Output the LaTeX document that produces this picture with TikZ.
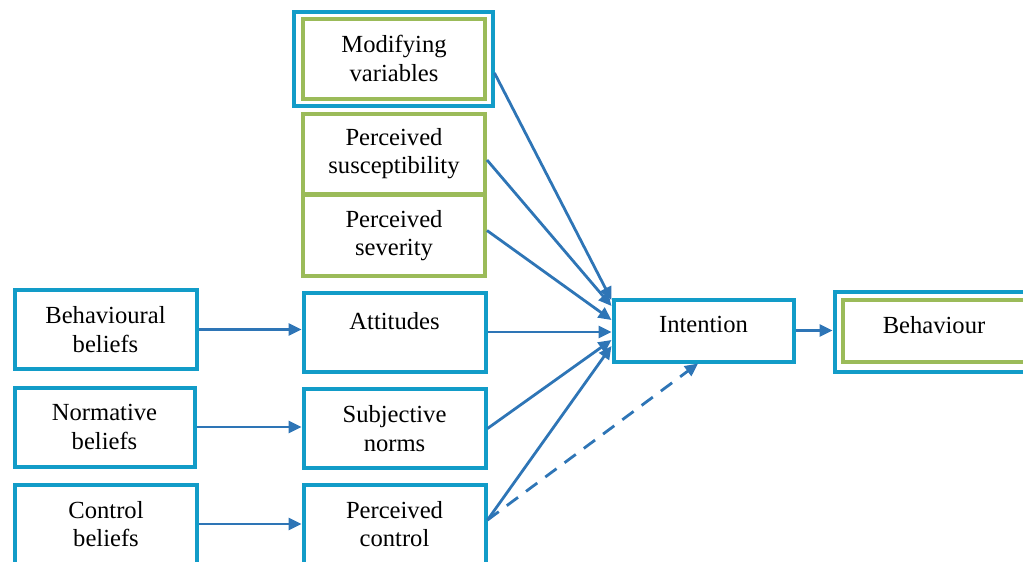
\documentclass[tikz,border=0pt]{standalone}
\usepackage{fontspec}
\setmainfont{Liberation Serif}
\usetikzlibrary{arrows.meta}
\definecolor{boxblue}{RGB}{18,156,200}
\definecolor{boxgreen}{RGB}{155,187,89}
\definecolor{arrblue}{RGB}{46,117,182}
\begin{document}
\begin{tikzpicture}[x=0.5pt, y=-0.5pt,
  bluebox/.style={draw=boxblue, line width=2pt, align=center, inner sep=0pt,
    minimum width=91pt, minimum height=39.5pt, font=\fontsize{12.3}{14.3}\selectfont},
  greenbox/.style={bluebox, draw=boxgreen},
  arr/.style={draw=arrblue, line width=1.4pt, -{Triangle[length=6.5pt,width=6pt]}}]
  \clip (0,0) rectangle (1023,562);
  \node[bluebox, minimum width=99.5pt, minimum height=47pt] (modvframe) at (393,58.5) {};
  \node[greenbox, minimum height=40pt] (modv) at (394,58.5) {Modifying\\variables};
  \node[greenbox, minimum height=40pt] (susc) at (394,153.5) {Perceived\\susceptibility};
  \node[greenbox, minimum height=40.5pt] (sev) at (394,235.5) {Perceived\\severity};
  \node[bluebox] (bb) at (105.5,329.5) {Behavioural\\beliefs};
  \node[bluebox, minimum width=90pt] (nb) at (104.5,427) {Normative\\beliefs};
  \node[bluebox] (cb) at (106,524) {Control\\beliefs};
  \node[bluebox, text depth=11.5pt] (att) at (394.5,332) {Attitudes};
  \node[bluebox] (sn) at (394.5,428.5) {Subjective\\norms};
  \node[bluebox] (pc) at (394.5,524) {Perceived\\control};
  \node[bluebox, minimum width=90pt, minimum height=31pt, text depth=6pt] (int) at (703.5,330.5) {Intention};
  \node[bluebox, minimum width=99.5pt, minimum height=40pt] (behframe) at (934,331.5) {};
  \node[greenbox, minimum height=31pt, text depth=6pt] (beh) at (934,330.5) {Behaviour};
  \draw[arr] (bb.east) -- (bb.east -| att.west);
  \draw[arr] (nb.east) -- (nb.east -| sn.west);
  \draw[arr] (cb) -- (pc);
  \draw[arr] (int.east) -- (int.east -| behframe.west);
  \draw[arr] ([yshift=-7.25pt]modvframe.east) -- ([yshift=15.25pt]int.west);
  \draw[arr] ([yshift=-3.25pt]susc.east) -- ([yshift=12.25pt]int.west);
  \draw[arr] ([yshift=2.5pt]sev.east) -- ([yshift=5.25pt]int.west);
  \draw[arr] (att.east) -- (att.east -| int.west);
  \draw[arr] (sn.east) -- ([yshift=-4.75pt]int.west);
  \draw[arr] ([yshift=2pt]pc.east) -- ([yshift=-7.75pt]int.west);
  \draw[arr, dash pattern=on 7pt off 5pt] ([yshift=2pt]pc.east) -- ([xshift=-2.75pt]int.south);
\end{tikzpicture}
\end{document}
